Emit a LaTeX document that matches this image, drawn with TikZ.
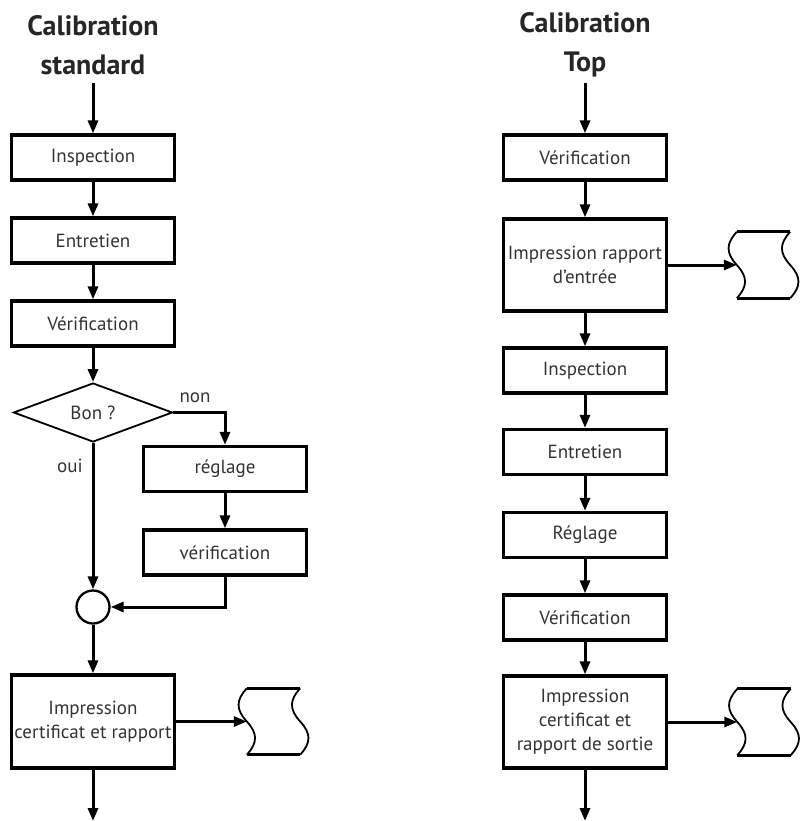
\documentclass[tikz,border=0pt]{standalone}
\usepackage{fontspec}
\setmainfont{PT Sans}
\usepackage{tikz}
\usetikzlibrary{positioning,arrows.meta,shapes.geometric,calc}
\tikzset{
procbox/.style = {rectangle, draw, line width=3.3pt, minimum width=163pt, minimum height=#1, inner sep=1pt, align=center, font=\fontsize{19}{24}\selectfont, text=black!80},
%procbox/.style = {}
procbox/.default = 45pt % height of the box
}
\tikzset{decision/.style={diamond, draw, line width=1.8pt, minimum width=159pt, minimum height=59pt, inner sep=0pt, font=\fontsize{19}{22}\selectfont, text=black!80}}
\tikzset{joint/.style={circle, draw, line width=2.3pt, minimum size=33pt, inner sep=0pt}}
\tikzset{tapedoc/.style={rectangle, minimum width=53pt, minimum height=66pt, inner sep=0pt}}
\tikzset{heading/.style={align=center, font=\bfseries\fontsize{28}{39}\selectfont, text=black!85}}
\tikzset{flow/.style={line width=3pt, -{Triangle[length=13pt,width=10pt]}}}
\tikzset{lbl/.style={font=\fontsize{19}{22}\selectfont, text=black!80}}
\newcommand{\drawtape}[1]{%
  \draw[line width=3pt] (#1.north west) -- (#1.north east);
  \draw[line width=3pt] (#1.south west) -- (#1.south east);
  \draw[line width=1.8pt] (#1.north west) .. controls +(-11,12) and +(-11,-12) .. (#1.west)
    .. controls +(11,12) and +(11,-12) .. (#1.south west);
  \draw[line width=1.8pt] (#1.north east) .. controls +(-11,12) and +(-11,-12) .. (#1.east)
    .. controls +(11,12) and +(11,-12) .. (#1.south east);
}

\begin{document}
\begin{tikzpicture}[x=1pt, y=-1pt]
      \useasboundingbox (0,0) rectangle (803,821);
      % standard calibration
      \node [heading] (titleA) at (93,45) {Calibration\\standard};
      \coordinate (topA) at (93,83);
      \node [procbox] (inspA) at (93,157.5) {Inspection};
      \node [procbox] (entrA) at (93,240.5) {Entretien};
      \node [procbox] (verA) at (93,323.5) {Vérification};
      \node [decision] (bonA) at (93,412.5) {Bon ?};
      \node [procbox] (regA) at (225,469) {réglage};
      \node [procbox] (vrfA) at (225,552.5) {vérification};
      \node [joint] (jointA) at (93,607) {};
      \node [procbox=93pt] (impA) at (93,721.5) {Impression\\certificat et rapport};
      \node [tapedoc] (docA) at (273.5,721.5) {};
      \coordinate (endA) at (93,821);
      \drawtape{docA}
      \draw [flow] (topA) -- (inspA);
      \draw [flow] (inspA) -- (entrA);
      \draw [flow] (entrA) -- (verA);
      \draw [flow] (verA) -- (bonA);
      \draw [flow] (bonA.east) -| (regA.north);
      \draw [flow] (regA) -- (vrfA);
      \draw [flow] (bonA.south) -- (jointA.north);
      \draw [flow] (vrfA.south) |- (jointA.east);
      \draw [flow] (jointA.south) -- (impA.north);
      \draw [flow] (impA.east) -- (docA.west);
      \draw [flow] (impA.south) -- (endA);
      \node [lbl] (nonA) at (195,398) {non};
      \node [lbl] (ouiA) at (70,466) {oui};
      % top calibration
      \node [heading] (titleB) at (585,45) {Calibration\\Top};
      \coordinate (topB) at (585,83);
      \node [procbox] (verB) at (585,157.5) {Vérification};
      \node [procbox=92pt] (impRB) at (585,265) {Impression rapport\\d'entrée};
      \node [tapedoc] (docB) at (763.5,265) {};
      \node [procbox] (inspB) at (585,370.5) {Inspection};
      \node [procbox] (entrB) at (585,452) {Entretien};
      \node [procbox] (regB) at (585,535) {Réglage};
      \node [procbox] (vrfB) at (585,617.5) {Vérification};
      \node [procbox=92pt] (impSB) at (585,722) {Impression\\certificat et\\rapport de sortie};
      \node [tapedoc] (docC) at (764,722) {};
      \coordinate (endB) at (585,821);
      \drawtape{docB}
      \drawtape{docC}
      \draw [flow] (topB) -- (verB);
      \draw [flow] (verB) -- (impRB);
      \draw [flow] (impRB.east) -- (docB.west);
      \draw [flow] (impRB) -- (inspB);
      \draw [flow] (inspB) -- (entrB);
      \draw [flow] (entrB) -- (regB);
      \draw [flow] (regB) -- (vrfB);
      \draw [flow] (vrfB) -- (impSB);
      \draw [flow] (impSB.east) -- (docC.west);
      \draw [flow] (impSB.south) -- (endB);
\end{tikzpicture}
\end{document}
